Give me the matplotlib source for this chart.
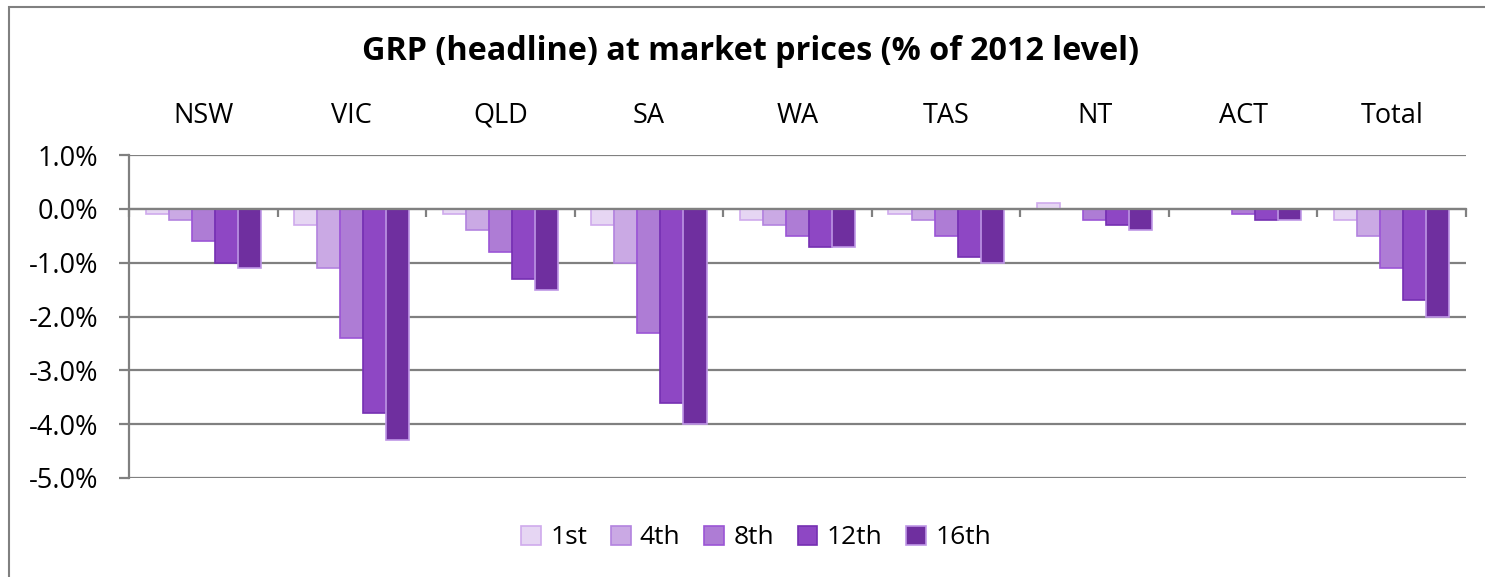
import numpy as np
import matplotlib.pyplot as plt
from matplotlib.patches import Rectangle
from matplotlib.ticker import FuncFormatter

plt.rcParams['font.family'] = ['Open Sans', 'DejaVu Sans']

# Data (% change vs 2012 level)
regions = ['NSW', 'VIC', 'QLD', 'SA', 'WA', 'TAS', 'NT', 'ACT', 'Total']
series = ['1st', '4th', '8th', '12th', '16th']
v_1st = [-0.1, -0.3, -0.1, -0.3, -0.2, -0.1, 0.1, 0.0, -0.2]
v_4th = [-0.2, -1.1, -0.4, -1.0, -0.3, -0.2, 0.0, 0.0, -0.5]
v_8th = [-0.6, -2.4, -0.8, -2.3, -0.5, -0.5, -0.2, -0.1, -1.1]
v_12th = [-1.0, -3.8, -1.3, -3.6, -0.7, -0.9, -0.3, -0.2, -1.7]
v_16th = [-1.1, -4.3, -1.5, -4.0, -0.7, -1.0, -0.4, -0.2, -2.0]
values = [v_1st, v_4th, v_8th, v_12th, v_16th]

fills = ['#E6D6F3', '#CAA9E4', '#AE7CD5', '#8E47C4', '#6F2F9F']
edges = ['#CFAAEC', '#B383DF', '#9B55D6', '#7530B2', '#BF97E6']

fig = plt.figure(figsize=(14.85, 5.77), dpi=100)
ax = fig.add_axes([129 / 1485, 1 - 478 / 577, (1466 - 129) / 1485, (478 - 155) / 577])

# outer chart border (runs off the right and bottom)
fig.patches.append(Rectangle((9 / 1485, -0.2), 1.2, 1.2 - 7 / 577, transform=fig.transFigure,
                             fill=False, edgecolor='#808080', linewidth=1.5))

x = np.arange(len(regions)) + 0.5
w = 0.155
for i, (name, vals) in enumerate(zip(series, values)):
    ax.bar(x + (i - 2) * w, vals, width=w, color=fills[i], edgecolor=edges[i],
           linewidth=1.2, label=name, zorder=2)

ax.set_xlim(0, len(regions))
ax.set_ylim(-5, 1)
ax.set_yticks(np.arange(-5, 1.01, 1))
ax.yaxis.set_major_formatter(FuncFormatter(lambda v, p: f'{v:.1f}%'))
ax.grid(axis='y', color='#808080', linewidth=1.6, zorder=1)
ax.set_axisbelow(True)

for s in ['top', 'right']:
    ax.spines[s].set_visible(False)
ax.spines['left'].set_color('#808080')
ax.spines['left'].set_linewidth(1.6)
ax.spines['bottom'].set_position(('data', 0))
ax.spines['bottom'].set_color('#808080')
ax.spines['bottom'].set_linewidth(1.6)
ax.spines['bottom'].set_zorder(5)

ax.set_xticks(np.arange(len(regions) + 1))
ax.set_xticklabels([])
ax.tick_params(axis='x', direction='out', length=6, width=1.6, color='#808080')
ax.tick_params(axis='y', direction='out', length=7, width=1.6, color='#808080',
               labelsize=19.5, pad=15)

top = ax.secondary_xaxis('top')
top.set_xticks(x)
top.set_xticklabels(regions, fontsize=19.5)
top.tick_params(length=0, pad=18)
top.spines['top'].set_visible(False)

# title is centred on the whole chart area, not on the plot area
fig.text(751 / 1485, 1 - 52 / 577, 'GRP (headline) at market prices (% of 2012 level)',
         fontsize=23.3, fontweight='bold', ha='center', va='center')

fig.legend(loc='center', bbox_to_anchor=(756 / 1485, 1 - 538 / 577), ncol=5, frameon=False,
           fontsize=19, handlelength=0.75, handleheight=0.75, handletextpad=0.35,
           columnspacing=0.9)

fig.savefig('out.png', dpi=100)
